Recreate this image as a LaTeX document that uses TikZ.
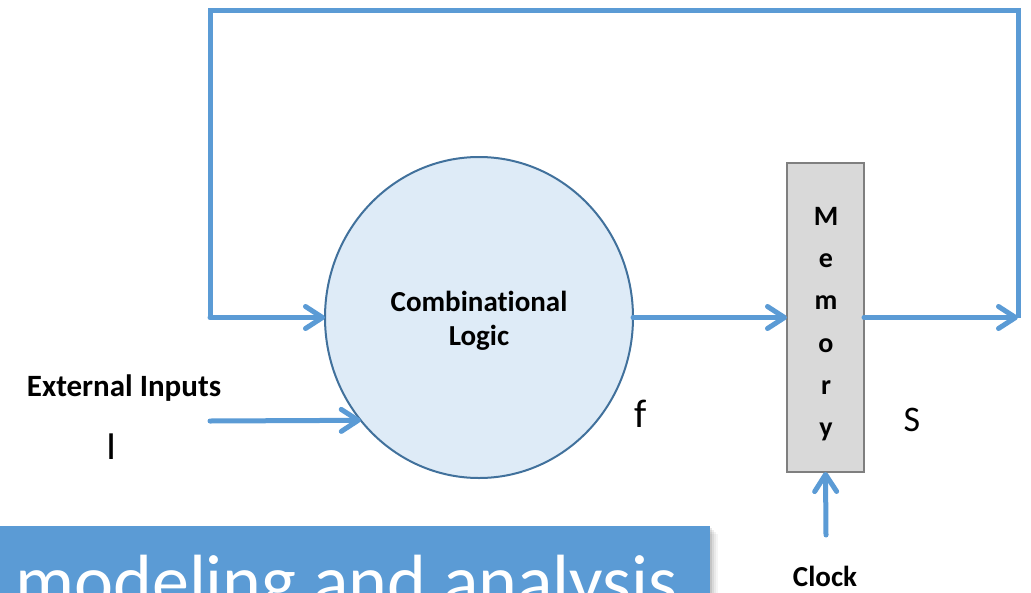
\documentclass[tikz,border=0pt]{standalone}
\usepackage{fontspec}
\setmainfont{Carlito}[Ligatures=NoCommon]
\usetikzlibrary{arrows.meta,shapes.geometric}
\definecolor{flowblue}{HTML}{5B9BD5}
\definecolor{circfill}{HTML}{DEEBF7}
\definecolor{circline}{HTML}{41719C}
\definecolor{memfill}{HTML}{D9D9D9}
\definecolor{memline}{HTML}{7F7F7F}
\begin{document}
\begin{tikzpicture}[x=1pt,y=-1pt,
  flow/.style={draw=flowblue, line width=5pt, line cap=round,
    -{Straight Barb[length=17pt,width=22pt,round]}},
  loop/.style={draw=flowblue, line width=5pt},
  lbl/.style={font=\fontsize{29}{33}\selectfont\bfseries, text=black, inner sep=0pt},
  big/.style={font=\fontsize{40}{44}\selectfont, text=black, inner sep=0pt}]
\useasboundingbox (0,0) rectangle (1031,592);

% nodes
\node[ellipse, draw=circline, line width=2pt, fill=circfill,
      minimum width=308pt, minimum height=321pt, inner sep=0pt, outer sep=0pt]
      (cl) at (479,317.5) {};
\node[lbl, align=center, font=\fontsize{29}{34}\selectfont\bfseries] (cltext) at (479,321) {Combinational\\Logic};

\node[rectangle, draw=memline, line width=2.5pt, fill=memfill,
      minimum width=77pt, minimum height=309pt, inner sep=0pt, outer sep=0pt]
      (mem) at (825.5,317.5) {};
\node[lbl, align=center, font=\fontsize{28}{42.3}\selectfont\bfseries] (memtext) at (826,324) {M\\e\\m\\o\\r\\y};

\node[lbl, font=\fontsize{31}{35}\selectfont\bfseries] (ext) at (124,388) {External Inputs};
\node[big, font=\fontsize{40}{44}\selectfont] (I) at (112,447) {I};
\node[big] (f) at (641,414) {f};
\node[big, font=\fontsize{36}{40}\selectfont] (S) at (912,420) {S};
\node[lbl] (clock) at (825,576) {Clock};

% coordinates
\coordinate (extstart) at (210,421);
\coordinate (R) at (1018,317.5);
\coordinate (RT) at (1018,10.5);
\coordinate (LT) at (210,10.5);
\coordinate (LB) at (210,317.5);
\coordinate (clkstart) at (826,535);

% connectors
\draw[loop] (R) -- (RT) -- (LT) -- (LB);
\draw[flow] (LB) -- (cl.west);
\draw[flow] (cl.east) -- (mem.west);
\draw[flow] (mem.east) -- (R);
\draw[flow] (extstart) -- (cl.221.3);
\draw[flow] (clkstart) -- (mem.south);

% banner
\begin{scope}
\clip (0,0) rectangle (1031,592);
\foreach \d/\o in {8/0.04,6/0.05,4/0.07,2/0.09}{
  \fill[black, opacity=\o] (\d,526+\d) rectangle (710+\d,600);
}
\node[fill=flowblue, minimum width=710pt, minimum height=80pt, inner sep=0pt, anchor=north west]
  (banner) at (0,526) {};
\node[anchor=base west, inner sep=0pt, text=white, font=\fontsize{74}{80}\selectfont]
  (bannertext) at (15,606) {modeling and analysis};
\end{scope}
\end{tikzpicture}
\end{document}
